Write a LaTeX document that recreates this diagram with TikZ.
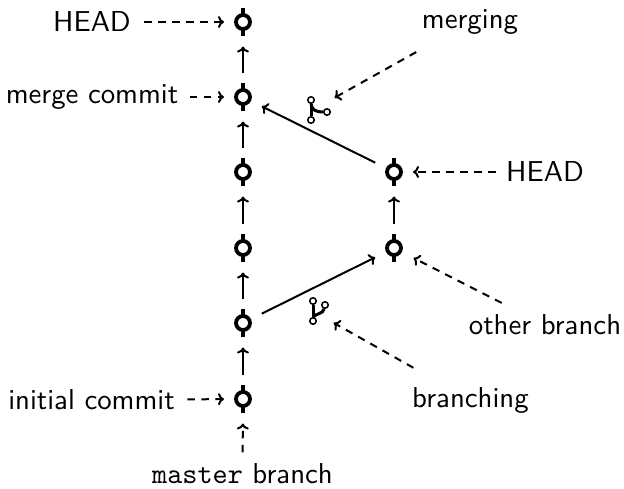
\documentclass[tikz,border=0pt]{standalone}
\usepackage{tikz}
\usetikzlibrary{positioning,arrows.meta}

\begin{document}
\begin{tikzpicture}[x=1pt,y=-1pt,
commit/.style={draw,circle,line width=3.8pt,minimum size=14pt,inner sep=0pt,outer sep=12pt},
txt/.style={font=\sffamily,scale=2.88,transform shape,inner sep=0pt,text=black},
gitdot/.style={draw,circle,line width=1.5pt,minimum size=6.5pt,inner sep=0pt,fill=white},
stem/.style={line width=4pt},
gitline/.style={line width=3pt},
tip/.style={-{Computer Modern Rightarrow[length=6pt,width=12pt]},line width=2pt},
solid arrow/.style={tip,shorten >=2pt,shorten <=2pt},
up arrow/.style={tip,shorten >=5.5pt,shorten <=5.5pt},
dep/.style={tip,dash pattern=on 7.5pt off 6.5pt}]
\useasboundingbox (0,0) rectangle (624,488);

% commits
\node[commit] (c1) at (243,22) {};
\node[commit] (c2) at (243,97) {};
\node[commit] (c3) at (243,172) {};
\node[commit] (c4) at (243,248) {};
\node[commit] (c5) at (243,323) {};
\node[commit] (c6) at (243,399) {};
\node[commit] (o1) at (394,172) {};
\node[commit] (o2) at (394,248) {};
\foreach \c in {c1,c2,c3,c4,c5,c6,o1,o2} {
  \draw[stem] ([yshift=-14pt]\c.center) -- ([yshift=-7pt]\c.center);
  \draw[stem] ([yshift=14pt]\c.center) -- ([yshift=7pt]\c.center);
}

% history
\foreach \a/\b in {c6/c5,c5/c4,c4/c3,c3/c2,c2/c1,o2/o1}
  \draw[up arrow] (\a) -- (\b);
\draw[solid arrow] (c5) -- (o2);
\draw[solid arrow] (o1) -- (c2);

% merge icon
\coordinate (mergeicon) at (318,107);
\node[gitdot] (m1) at (311,100) {};
\node[gitdot] (m2) at (311,120) {};
\node[gitdot] (m3) at (327,112) {};
\draw[gitline] (m1) -- (m2);
\draw[gitline] (m1.south) .. controls (312,110) and (316,112) .. (m3);

% branch icon
\coordinate (branchicon) at (318,314);
\node[gitdot] (b1) at (313,301) {};
\node[gitdot] (b2) at (313,321) {};
\node[gitdot] (b3) at (325,305) {};
\draw[gitline] (b1) -- (b2);
\draw[gitline] (b3) .. controls (323,314) and (317,313) .. (b2.north);

% labels
\node[txt] (head) at (92,22) {HEAD};
\node[txt] (merge) at (92,97) {merge commit};
\node[txt] (initial) at (91.5,400) {initial commit};
\node[txt] (master) at (242.5,474) {\texttt{master} branch};
\node[txt] (merging) at (470,22) {merging};
\node[txt] (head2) at (545,172) {HEAD};
\node[txt] (other) at (545,325) {other branch};
\node[txt] (branching) at (470.5,400) {branching};

\draw[dep,shorten <=13pt] (head) -- (c1);
\draw[dep,shorten <=11pt] (merge) -- (c2);
\draw[dep,shorten <=12pt] (initial) -- (c6);
\draw[dep,shorten <=10pt] (head2) -- (o1);
\draw[dep,shorten <=11pt,shorten >=5.5pt] (master) -- (c6);
\draw[dep,shorten <=35pt,shorten >=19pt] (merging) -- (mergeicon);
\draw[dep,shorten <=25pt,shorten >=3pt] (other) -- (o2);
\draw[dep,shorten <=38pt,shorten >=18pt] (branching) -- (branchicon);
\end{tikzpicture}
\end{document}
